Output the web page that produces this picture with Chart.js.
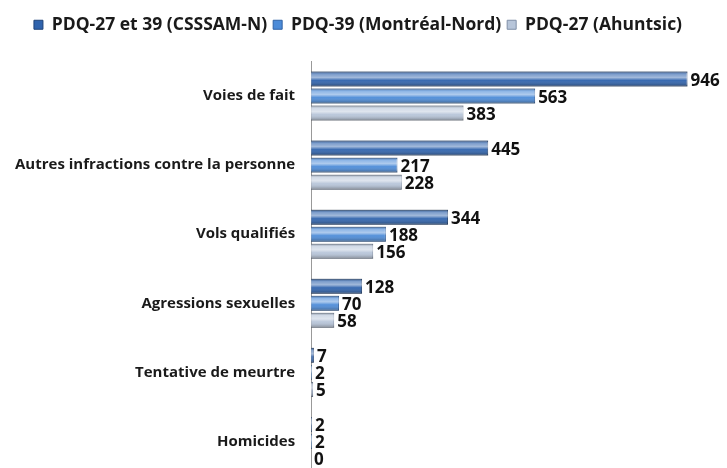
<!DOCTYPE html>
<html>
<head>
<meta charset="utf-8">
<script src="https://cdn.jsdelivr.net/npm/chart.js@4/dist/chart.umd.min.js"></script>
<style>
  html, body { margin: 0; padding: 0; background: #fff; overflow: hidden; }
  #wrap { width: 727px; height: 468px; overflow: hidden; }
  #crimeChart { display: block; }
</style>
</head>
<body>
<!-- canvas a bit taller than the window: the axis runs off the bottom, like the original -->
<div id="wrap"><canvas id="crimeChart" width="727" height="476"></canvas></div>
<script>

// Categories (y axis)
const categories = ['Voies de fait', 'Autres infractions contre la personne', 'Vols qualifiés', 'Agressions sexuelles', 'Tentative de meurtre', 'Homicides'];

// Series values
const csssamValues = [946, 445, 344, 128, 7, 2];
const montrealNordValues = [563, 217, 188, 70, 2, 2];
const ahuntsicValues = [383, 228, 156, 58, 5, 0];

// Legend labels
const seriesNames = ['PDQ-27 et 39 (CSSSAM-N)', 'PDQ-39 (Montréal-Nord)', 'PDQ-27 (Ahuntsic)'];

// Get chart element.
var ctx = document.getElementById('crimeChart').getContext('2d');

// Leave some room under the legend.
const legendGap = {
	id: 'legendGap',
	beforeInit(chart) {
		const fit = chart.legend.fit;
		chart.legend.fit = function () {
			fit.bind(chart.legend)();
			this.height += 18;
		};
	}
};

// Shiny overlay on each bar, to mimic the 3D look of the original.
const shinePlugin = {
	id: 'shine',
	afterDatasetsDraw(chart) {
		const c = chart.ctx;
		chart.data.datasets.forEach((ds, i) => {
			chart.getDatasetMeta(i).data.forEach(bar => {
				const h = bar.height;
				const top = bar.y - h / 2;
				const left = Math.min(bar.base, bar.x);
				const w = Math.abs(bar.x - bar.base);
				if (w < 0.5) return;
				const g = c.createLinearGradient(0, top, 0, top + h);
				g.addColorStop(0, 'rgba(0,0,0,0.25)');
				g.addColorStop(0.15, 'rgba(255,255,255,0.35)');
				g.addColorStop(0.4, 'rgba(255,255,255,0.55)');
				g.addColorStop(0.6, 'rgba(255,255,255,0.05)');
				g.addColorStop(1, 'rgba(0,0,0,0.35)');
				c.save();
				c.fillStyle = g;
				c.fillRect(left, top, w, h);
				c.restore();
			});
		});
	}
};

// Value labels at the end of each bar.
const valueLabels = {
	id: 'valueLabels',
	afterDatasetsDraw(chart) {
		const c = chart.ctx;
		c.save();
		c.font = 'bold 17px "Open Sans", sans-serif';
		c.fillStyle = '#111';
		c.textBaseline = 'middle';
		c.textAlign = 'left';
		chart.data.datasets.forEach((ds, i) => {
			chart.getDatasetMeta(i).data.forEach((bar, j) => {
				c.fillText(ds.data[j], bar.x + 3, bar.y + 2);
			});
		});
		c.restore();
	}
};

const chart = {
	type: 'bar',
	data: {
		labels: categories,
		datasets: [
			{
				label: seriesNames[0],
				data: csssamValues,
				backgroundColor: '#2f63ad',
				borderColor: '#1f4378',
				borderWidth: 1,
				borderSkipped: 'left'
			},
			{
				label: seriesNames[1],
				data: montrealNordValues,
				backgroundColor: '#4c8bd8',
				borderColor: '#2f62a5',
				borderWidth: 1,
				borderSkipped: 'left'
			},
			{
				label: seriesNames[2],
				data: ahuntsicValues,
				backgroundColor: '#b7c5d9',
				borderColor: '#7f8ea6',
				borderWidth: 1,
				borderSkipped: 'left'
			}
		]
	},
	options: {
		indexAxis: 'y',
		responsive: false,
		animation: false,
		layout: { padding: { top: 10, right: 18, bottom: 0, left: 7 } },
		datasets: {
			bar: { categoryPercentage: 0.74, barPercentage: 0.88 }
		},
		plugins: {
			legend: {
				position: 'top',
				labels: {
					boxWidth: 9,
					boxHeight: 9,
					padding: 6,
					color: '#1a1a1a',
					font: { family: '"Open Sans", sans-serif', size: 17.5, weight: 'bold' }
				}
			},
			tooltip: { enabled: false }
		},
		scales: {
			x: {
				display: false,
				min: 0,
				max: 1000
			},
			y: {
				grid: { display: false },
				border: { display: true, color: '#999', width: 1 },
				ticks: {
					padding: 8,
					color: '#1a1a1a',
					font: { family: '"Open Sans", sans-serif', size: 15, weight: 'bold' }
				},
				// no extra room for half tick labels at the ends
				afterFit(scale) {
					scale.paddingTop = 0;
					scale.paddingBottom = 0;
				}
			}
		}
	},
	plugins: [legendGap, shinePlugin, valueLabels]
};

var crimeChart = new Chart(ctx, chart);
</script>
</body>
</html>
